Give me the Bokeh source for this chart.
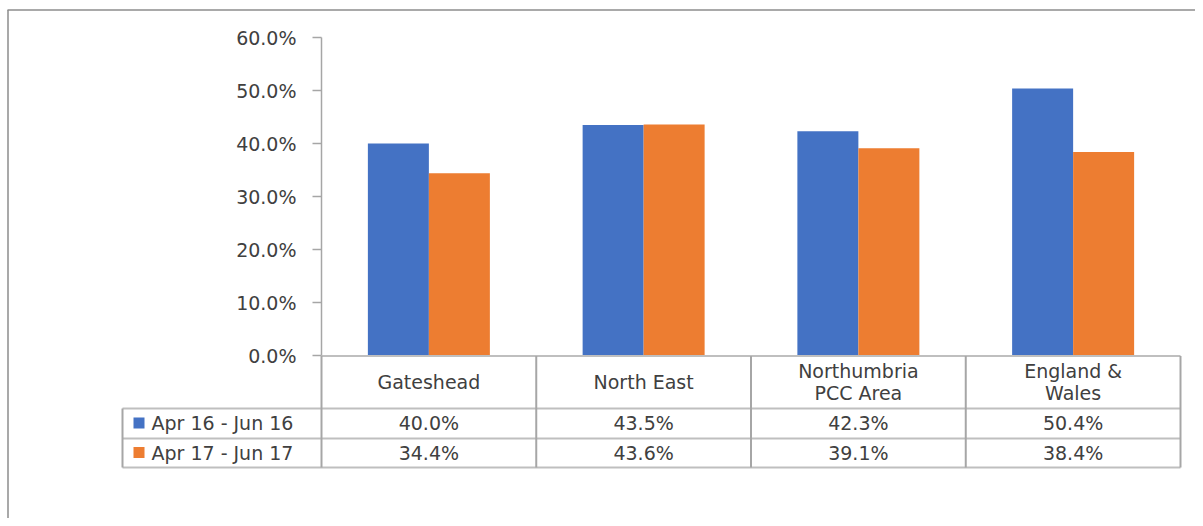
from bokeh.plotting import figure
from bokeh.models import LinearAxis, FixedTicker, NumeralTickFormatter, Range1d
from bokeh.core.properties import value
from bokeh.embed import file_html
from bokeh.resources import INLINE

# ---- data ----
categories = ["Gateshead", "North East", "Northumbria\nPCC Area", "England &\nWales"]
series_names = ["Apr 16 - Jun 16", "Apr 17 - Jun 17"]
apr16_jun16 = [0.400, 0.435, 0.423, 0.504]
apr17_jun17 = [0.344, 0.436, 0.391, 0.384]
y_ticks = [0.0, 0.1, 0.2, 0.3, 0.4, 0.5, 0.6]
colors = ["#4472C4", "#ED7D31"]

# ---- layout helpers (picture pixel -> data) ----
W, H = 1195, 518
COL = 214.75
def X(px):
    return (px - 321) / COL
def Y(py):
    return (355 - py) / 530.0

FONT = value("DejaVu Sans")
TXT = "#404040"
FS = "19px"

p = figure(width=W, height=H, output_backend="svg", toolbar_location=None,
           x_range=Range1d(X(0), X(W)), y_range=Range1d(Y(H), Y(0)),
           x_axis_location=None, y_axis_location=None, min_border=0)
p.grid.visible = False
p.outline_line_color = None
p.background_fill_color = "white"
p.border_fill_color = "white"

n = len(categories)
centers = [i + 0.5 for i in range(n)]
bw = 61 / COL

# bars
p.vbar(x=[c - bw / 2 for c in centers], top=apr16_jun16, width=bw, bottom=0,
       fill_color=colors[0], line_color=None)
p.vbar(x=[c + bw / 2 for c in centers], top=apr17_jun17, width=bw, bottom=0,
       fill_color=colors[1], line_color=None)

# y axis at x = 0
ax = LinearAxis(fixed_location=0, bounds=(y_ticks[0], y_ticks[-1]),
                ticker=FixedTicker(ticks=y_ticks),
                formatter=NumeralTickFormatter(format="0.0%"))
ax.axis_line_color = "#a6a6a6"
ax.axis_line_width = 1.5
ax.major_tick_line_color = "#a6a6a6"
ax.major_tick_line_width = 1.5
ax.major_tick_out = 9
ax.major_tick_in = 0
ax.minor_tick_line_color = None
ax.major_label_standoff = 16
ax.major_label_text_font = "DejaVu Sans"
ax.major_label_text_font_size = FS
ax.major_label_text_color = TXT
p.add_layout(ax, "left")

# outer frame lines (top and left)
p.segment(x0=[X(7), X(7.5)], y0=[Y(9.5), Y(9.5)], x1=[X(1200), X(7.5)], y1=[Y(9.5), Y(530)],
          line_color="#8c8c8c", line_width=1.5)

# table grid
LC = "#bfbfbf"
row_lines = [Y(355.5), Y(408), Y(438), Y(467)]
p.segment(x0=[0, X(122), X(122), X(122)],
          y0=[row_lines[0], row_lines[1], row_lines[2], row_lines[3]],
          x1=[n, n, n, n],
          y1=[row_lines[0], row_lines[1], row_lines[2], row_lines[3]],
          line_color=LC, line_width=2)
vx = [float(i) for i in range(n + 1)]
p.segment(x0=vx, y0=[row_lines[0]] * len(vx), x1=vx, y1=[row_lines[3]] * len(vx),
          line_color="#a6a6a6", line_width=2)
p.segment(x0=[X(122)], y0=[row_lines[1]], x1=[X(122)], y1=[row_lines[3]],
          line_color="#a6a6a6", line_width=2)

# header labels
hx, hy, ht = [], [], []
for c, name in zip(centers, categories):
    parts = name.split("\n")
    if len(parts) == 1:
        hx.append(c); hy.append(Y(381)); ht.append(parts[0])
    else:
        hx += [c, c]; hy += [Y(370), Y(392)]; ht += parts
p.text(x=hx, y=hy, text=ht, text_align="center", text_baseline="middle",
       text_font=FONT, text_font_size=FS, text_color=TXT)

# value cells
row_y = [Y(422.5), Y(452)]
for r, vals in enumerate([apr16_jun16, apr17_jun17]):
    p.text(x=centers, y=[row_y[r]] * n, text=[f"{v*100:.1f}%" for v in vals],
           text_align="center", text_baseline="middle",
           text_font=FONT, text_font_size=FS, text_color=TXT)

# legend cells
p.scatter(x=[X(138.5)] * 2, y=row_y, marker="square", size=11,
          fill_color=colors, line_color=None)
p.text(x=[X(151)] * 2, y=row_y, text=series_names, text_align="left",
       text_baseline="middle", text_font=FONT, text_font_size=FS, text_color=TXT)

open("out.html", "w").write(file_html(p, INLINE))
